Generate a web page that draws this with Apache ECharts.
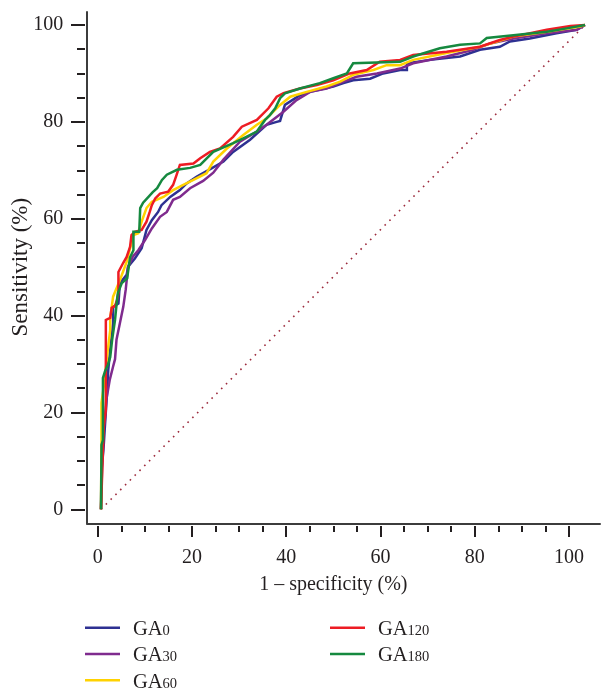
<!DOCTYPE html>
<html>
<head>
<meta charset="utf-8">
<script src="https://cdn.jsdelivr.net/npm/echarts@6/dist/echarts.min.js"></script>
<style>html,body{margin:0;padding:0;background:#fff}#c{width:602px;height:694px}</style>
</head>
<body>
<div id="c"></div>
<script>
// ROC data: [1 - specificity (%), sensitivity (%)]
const seriesNames = ['GA0', 'GA30', 'GA60', 'GA120', 'GA180'];
const ga0 = [[0,0],[0.1,8.1],[0.5,12.2],[0.8,17],[1.2,23.3],[1.5,28.8],[1.9,32.9],[2.5,38.4],[2.5,41.8],[3.6,42.5],[3.9,46.7],[5.3,48.4],[5.6,50.1],[7,51.8],[8.4,53.9],[9.4,57.7],[10.5,59.7],[11.8,61.4],[12.5,62.8],[14.3,64.5],[16.3,65.9],[17.7,67.3],[19.8,68.7],[23.2,70.6],[25.3,71.8],[27.3,73.8],[30.8,76.3],[34.2,79.4],[36.3,80],[37,80.2],[38,83.5],[41.1,85.5],[43.2,86.2],[48,87.3],[50.1,88],[52.1,88.6],[55.6,88.9],[58.3,90],[61.8,90.7],[63.2,90.7],[63.2,92.1],[68,92.8],[74.2,93.5],[78.3,94.9],[82.4,95.5],[84.5,96.6],[88.6,97.2],[94.1,98.3],[98.3,99],[100,100]];
const ga30 = [[0,0],[0.2,8],[0.4,15.8],[0.8,18.4],[1.1,22.6],[1.8,26.7],[2.5,29.5],[2.9,31],[3.2,35],[3.9,38.4],[4.6,41.8],[5.1,45.3],[5.6,50.1],[6.6,52.2],[7.7,53.5],[9.1,55.6],[10.5,58],[12.2,60.4],[13.6,61.4],[14.9,63.9],[16.3,64.5],[18.4,66.3],[21.1,67.8],[23.2,69.5],[25.3,72.2],[28.7,75.9],[32.2,78],[34.2,79.4],[37.7,82.1],[40.4,84.5],[43.2,86.2],[46.6,86.9],[50.1,88.3],[52.8,89.3],[57,90],[61.8,91],[64.5,92.1],[71.4,93.5],[76.9,94.9],[80.4,96.2],[85.2,97.2],[92.1,98.3],[98.3,99],[100,100]];
const ga60 = [[0,0],[0.1,14],[0.1,22],[0.8,27],[1.3,32],[1.9,37],[1.9,39.4],[2.5,43.9],[3.9,47.3],[5.3,51.1],[6.7,56.6],[7.7,57],[8.4,59.4],[9.4,62.2],[10.5,63.5],[12.9,64.5],[14.9,65.9],[17,67],[19.1,68],[21.8,69.4],[23.2,71.8],[26,74.5],[29.4,77.3],[32.2,79.4],[34.2,80.7],[37,83.5],[39.1,85.2],[42.5,86.2],[46.6,87.3],[49.4,88.3],[52.1,89.7],[56.3,90.7],[59,91.7],[61.8,91.7],[64.5,92.8],[71.4,94.2],[78.3,95.5],[85.2,97.6],[92.1,98.6],[99,99.7],[100,100]];
const ga120 = [[0,0],[0.4,12.3],[0.6,17.4],[1,20.5],[1,39.1],[1.9,39.5],[2.2,41.6],[2.9,42],[3.3,43.2],[3.6,44.7],[3.6,49],[4.6,50.9],[5.3,52.1],[6,54.2],[6.3,56.6],[7,57.3],[8.4,57.7],[9.4,59.4],[10.1,61.5],[10.5,62.8],[11.2,64.2],[12.2,65.2],[13.9,65.6],[14.9,67],[15.6,69],[16.3,71.1],[19.1,71.4],[20.5,72.5],[22.5,73.8],[24.6,74.5],[27.3,76.9],[29.1,79],[32.2,80.4],[34.6,82.8],[36.3,85.2],[37.7,85.9],[41.1,86.9],[44.6,87.6],[48,88.6],[51.4,90],[54.9,90.7],[57.6,92.4],[61.8,92.8],[64.5,93.8],[71.4,94.5],[78.3,95.5],[82.4,96.9],[85.2,97.6],[92.1,99],[97,99.8],[100,100]];
const ga180 = [[0,0],[0.1,13.3],[0.4,14.3],[0.4,27.1],[0.8,28.4],[1.4,29.8],[1.9,31.4],[2.3,35],[2.9,39.1],[3.3,43.2],[3.5,44.7],[4.3,46.7],[5.4,47.7],[6,52],[6.7,53.5],[6.7,57.3],[7.9,57.3],[8.1,62.2],[8.7,63.3],[10.7,65.5],[11.6,66.3],[12.6,68],[13.6,69.1],[15.7,70.1],[18.4,70.5],[20.5,71.1],[23.2,73.8],[27.3,75.6],[29.4,76.6],[32.2,78],[33.9,80.4],[34.9,81.4],[36,82.8],[37,84.9],[38,85.9],[41.1,86.9],[45.2,88],[48,89],[50.8,90],[52.1,92.1],[61.8,92.4],[64.5,93.5],[70,95.2],[74.2,95.9],[78.3,96.2],[79.7,97.3],[85.2,97.9],[92.1,98.6],[96.2,99.3],[100,100]];
const diagonal = [[0,0],[100,100]];
const xTickMin = 0, xTickMax = 100, xTickStep = 20;
const yTickMin = 0, yTickMax = 100, yTickStep = 20;

const colors = ['#2e3192', '#7f2b8e', '#ffd200', '#ed1c24', '#15893f'];
const seriesData = [ga0, ga30, ga60, ga120, ga180];
const FONT = 'Liberation Serif';
const INK = '#231f20';

const chart = echarts.init(document.getElementById('c'), null, {renderer: 'canvas'});

const legendText = {
  fontFamily: FONT, color: INK,
  rich: {
    a: {fontFamily: FONT, fontSize: 20.5, lineHeight: 22, color: INK, padding: [4, 0, 0, 8]},
    b: {fontFamily: FONT, fontSize: 14.5, lineHeight: 9, color: INK, verticalAlign: 'bottom'}
  }
};
const legendFmt = name => '{a|GA}{b|' + name.slice(2) + '}';
const hiddenLine = {show: true, lineStyle: {color: 'rgba(0,0,0,0)', width: 1}};
const off = {show: false};
const frameLine = {show: true, lineStyle: {color: '#3c3c3c', width: 2}};
const G = {outerBoundsMode: 'none', containLabel: false};

const option = {
  animation: false,
  backgroundColor: '#fff',
  grid: [
    Object.assign({left: 85, right: 33, top: 25, bottom: 184.7}, G),   // y ticks
    Object.assign({left: 97.7, right: 33, top: 25, bottom: 168}, G),   // x ticks
    Object.assign({left: 101, right: 17, top: 25, bottom: 184.7}, G),  // data
    Object.assign({left: 87, right: 2, top: 12, bottom: 170.5}, G)     // frame
  ],
  xAxis: [
    {gridIndex: 0, type: 'value', min: 0, max: 1, show: false},
    {
      gridIndex: 1, type: 'value', min: xTickMin, max: xTickMax, interval: xTickStep,
      axisLine: hiddenLine,
      axisTick: {show: true, length: 11, lineStyle: {color: INK, width: 2}},
      minorTick: {show: true, splitNumber: 4, length: 6, lineStyle: {color: INK, width: 2}},
      splitLine: off,
      axisLabel: {margin: 21.5, fontFamily: FONT, fontSize: 20, color: INK},
      name: '1 \u2013 specificity (%)', nameLocation: 'middle', nameGap: 48.5, nameMoveOverlap: false,
      nameTextStyle: {fontFamily: FONT, fontSize: 20, color: INK}
    },
    {gridIndex: 2, type: 'value', min: 0, max: 100, show: false},
    {
      gridIndex: 3, type: 'value', min: 0, max: 1,
      axisLine: frameLine, axisTick: off, axisLabel: off, splitLine: off
    }
  ],
  yAxis: [
    {
      gridIndex: 0, type: 'value', min: yTickMin, max: yTickMax, interval: yTickStep,
      axisLine: hiddenLine,
      axisTick: {show: true, length: 14, lineStyle: {color: INK, width: 2}},
      minorTick: {show: true, splitNumber: 4, length: 8, lineStyle: {color: INK, width: 2}},
      splitLine: off,
      axisLabel: {margin: 21.7, fontFamily: FONT, fontSize: 20, color: INK},
      name: 'Sensitivity (%)', nameLocation: 'middle', nameGap: 53, nameMoveOverlap: false,
      nameTextStyle: {fontFamily: FONT, fontSize: 23, color: INK}
    },
    {gridIndex: 1, type: 'value', min: 0, max: 1, show: false},
    {gridIndex: 2, type: 'value', min: 0, max: 100, show: false},
    {
      gridIndex: 3, type: 'value', min: 0, max: 1,
      axisLine: frameLine, axisTick: off, axisLabel: off, splitLine: off
    }
  ],
  legend: [
    {
      data: seriesNames.slice(0, 3), orient: 'vertical', left: 85, top: 615.3, padding: 0,
      itemWidth: 35, itemHeight: 2.5, itemGap: 1.2, icon: 'rect',
      formatter: legendFmt, textStyle: legendText, selectedMode: false
    },
    {
      data: seriesNames.slice(3), orient: 'vertical', left: 330, top: 615.3, padding: 0,
      itemWidth: 35, itemHeight: 2.5, itemGap: 1.2, icon: 'rect',
      formatter: legendFmt, textStyle: legendText, selectedMode: false
    }
  ],
  series: [
    {
      name: 'diag', type: 'line', xAxisIndex: 2, yAxisIndex: 2, data: diagonal,
      symbol: 'none', silent: true,
      lineStyle: {color: '#9c2a3c', width: 1.6, type: [1.6, 5.2]}
    }
  ].concat(seriesNames.map((n, i) => ({
    name: n, type: 'line', xAxisIndex: 2, yAxisIndex: 2, data: seriesData[i],
    symbol: 'none', clip: false, color: colors[i],
    lineStyle: {color: colors[i], width: 2.5, join: 'miter'}
  })))
};
chart.setOption(option);
</script>
</body>
</html>
